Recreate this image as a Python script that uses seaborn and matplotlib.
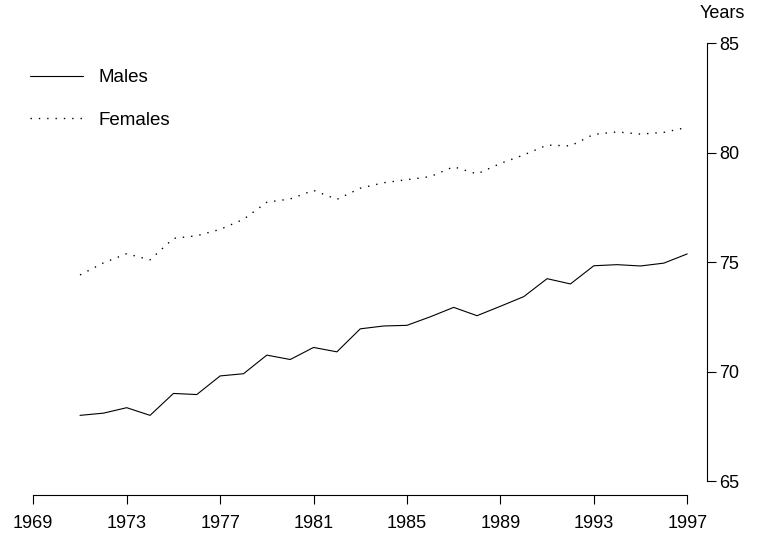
# life expectancy at birth, males vs females, 1971-1997
import numpy as np
import pandas as pd
import matplotlib
matplotlib.use("Agg")
import matplotlib.pyplot as plt
import seaborn as sns

# data
years = list(range(1971, 1998))
males = [68.0, 68.1, 68.35, 68.0, 69.0, 68.95, 69.8, 69.9, 70.75, 70.55,
         71.1, 70.9, 71.95, 72.08, 72.11, 72.5, 72.93, 72.55, 72.98, 73.42,
         74.24, 74.0, 74.83, 74.88, 74.82, 74.95, 75.37]
females = [74.41, 74.96, 75.38, 75.1, 76.08, 76.2, 76.49, 76.95, 77.73, 77.88,
           78.27, 77.86, 78.37, 78.62, 78.76, 78.9, 79.35, 79.02, 79.5, 79.89,
           80.34, 80.3, 80.83, 80.94, 80.84, 80.92, 81.15]
xticks = [1969, 1973, 1977, 1981, 1985, 1989, 1993, 1997]
yticks = [65, 70, 75, 80, 85]

df = pd.DataFrame({"year": years, "Males": males, "Females": females})

sns.set_style("white")
plt.rcParams["font.family"] = ["Liberation Sans", "DejaVu Sans"]
plt.rcParams["text.color"] = "black"
plt.rcParams["xtick.labelcolor"] = "black"
plt.rcParams["ytick.labelcolor"] = "black"

fig = plt.figure(figsize=(7.6, 5.33), dpi=100)
ax = fig.add_axes([33.3 / 760, 1 - 495.3 / 533, (707.3 - 33.3) / 760, (495.3 - 43) / 533])

sns.lineplot(data=df, x="year", y="Males", ax=ax, color="black", lw=0.8, label="Males")
sns.lineplot(data=df, x="year", y="Females", ax=ax, color="black", lw=1.0,
             linestyle=(0, (1, 5)), label="Females")

ax.set_xlim(1969, 1997.86)
ax.set_ylim(64.35, 85)
ax.set_xticks(xticks)
ax.set_yticks(yticks)
ax.set_xlabel("")
ax.set_ylabel("")

ax.yaxis.tick_right()
for s in ["left", "top"]:
    ax.spines[s].set_visible(False)
ax.spines["right"].set_bounds(65, 85)
ax.spines["bottom"].set_bounds(1969, 1997)
for s in ["right", "bottom"]:
    ax.spines[s].set_color("black")
    ax.spines[s].set_linewidth(0.8)
ax.tick_params(axis="x", direction="out", length=6.3, width=0.8, color="black",
               pad=8, labelsize=13, bottom=True)
ax.tick_params(axis="y", direction="out", length=6.3, width=0.8, color="black",
               pad=2, labelsize=13, right=True, left=False)

fig.text(700 / 760, 1 - 13 / 533, "Years", ha="left", va="center", fontsize=13)

ax.legend(loc="upper left", bbox_to_anchor=(30 / 760, 1 - 69 / 533),
          bbox_transform=fig.transFigure, frameon=False, fontsize=13.5,
          handlelength=2.8, handletextpad=0.85, labelspacing=1.35,
          borderpad=0, borderaxespad=0)

fig.savefig("out.png", dpi=100)
